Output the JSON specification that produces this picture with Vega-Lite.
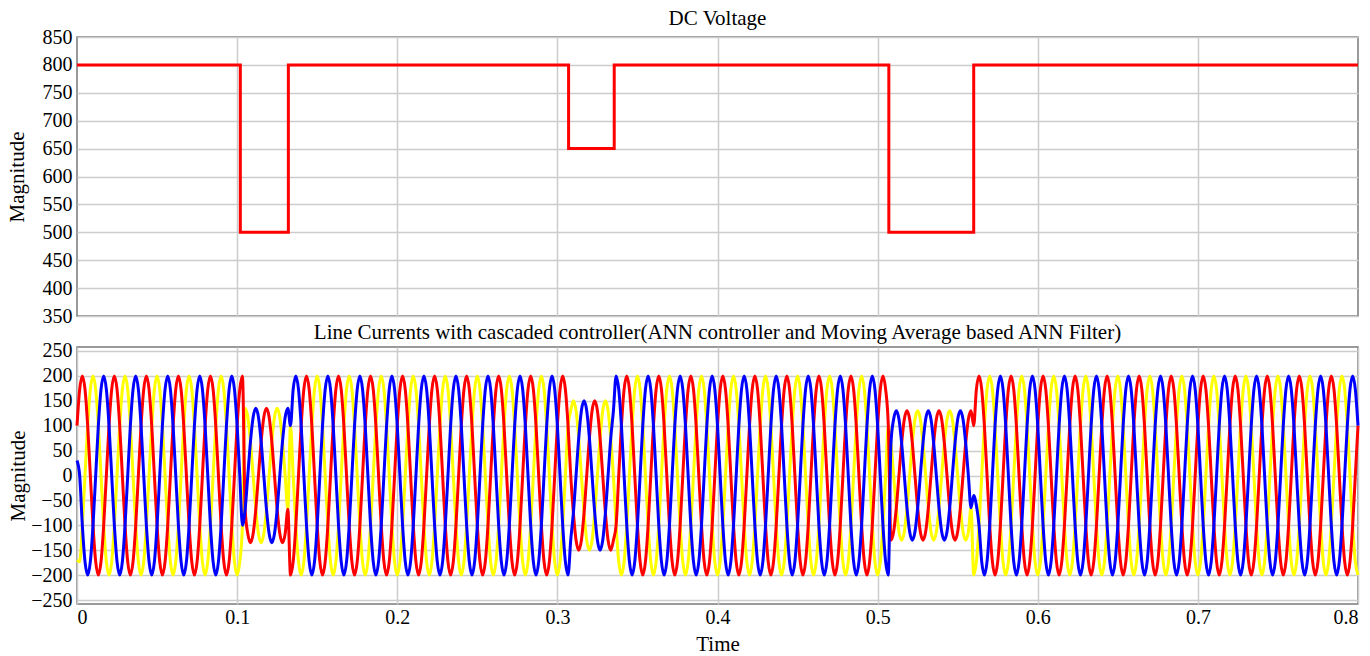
{
"$schema": "https://vega.github.io/schema/vega-lite/v6.json",
"background": "white",
"padding": {"left": 5, "top": 7, "right": 13, "bottom": 0},
"config": {
 "font": "Liberation Serif",
 "text": {"font": "Liberation Serif"},
 "view": {"stroke": "#7a7a7a", "strokeWidth": 1.5},
 "axis": {"labelFont": "Liberation Serif", "titleFont": "Liberation Serif", "labelFontSize": 20, "titleFontSize": 21, "titleFontWeight": "normal", "labelColor": "#000", "titleColor": "#000", "gridColor": "#cccccc", "gridWidth": 1.5, "domain": false, "ticks": false, "labelPadding": 5},
 "title": {"font": "Liberation Serif", "fontSize": 21, "fontWeight": "normal", "color": "#000", "offset": -2},
 "concat": {"spacing": -6}
},
"datasets": {
"dc": [
{"t":0,"v":800},{"t":0.102,"v":800},{"t":0.102,"v":500},{"t":0.132,"v":500},{"t":0.132,"v":800},
{"t":0.307,"v":800},{"t":0.307,"v":650},{"t":0.3355,"v":650},{"t":0.3355,"v":800},
{"t":0.507,"v":800},{"t":0.507,"v":500},{"t":0.56,"v":500},{"t":0.56,"v":800},{"t":0.8,"v":800}
],
"cur": [
{"t":0,"r":100,"y":-170,"b":30},{"t":0.00167,"r":173,"y":-173,"b":0},{"t":0.00333,"r":200,"y":-100,"b":-100},{"t":0.005,"r":173,"y":0,"b":-173},{"t":0.00667,"r":100,"y":100,"b":-200},{"t":0.00833,"r":0,"y":173,"b":-173},
{"t":0.01,"r":-100,"y":200,"b":-100},{"t":0.01167,"r":-173,"y":173,"b":0},{"t":0.01333,"r":-200,"y":100,"b":100},{"t":0.015,"r":-173,"y":0,"b":173},{"t":0.01667,"r":-100,"y":-100,"b":200},{"t":0.01833,"r":0,"y":-173,"b":173},
{"t":0.02,"r":100,"y":-200,"b":100},{"t":0.02167,"r":173,"y":-173,"b":0},{"t":0.02333,"r":200,"y":-100,"b":-100},{"t":0.025,"r":173,"y":0,"b":-173},{"t":0.02667,"r":100,"y":100,"b":-200},{"t":0.02833,"r":0,"y":173,"b":-173},
{"t":0.03,"r":-100,"y":200,"b":-100},{"t":0.03167,"r":-173,"y":173,"b":0},{"t":0.03333,"r":-200,"y":100,"b":100},{"t":0.035,"r":-173,"y":0,"b":173},{"t":0.03667,"r":-100,"y":-100,"b":200},{"t":0.03833,"r":0,"y":-173,"b":173},
{"t":0.04,"r":100,"y":-200,"b":100},{"t":0.04167,"r":173,"y":-173,"b":0},{"t":0.04333,"r":200,"y":-100,"b":-100},{"t":0.045,"r":173,"y":0,"b":-173},{"t":0.04667,"r":100,"y":100,"b":-200},{"t":0.04833,"r":0,"y":173,"b":-173},
{"t":0.05,"r":-100,"y":200,"b":-100},{"t":0.05167,"r":-173,"y":173,"b":0},{"t":0.05333,"r":-200,"y":100,"b":100},{"t":0.055,"r":-173,"y":0,"b":173},{"t":0.05667,"r":-100,"y":-100,"b":200},{"t":0.05833,"r":0,"y":-173,"b":173},
{"t":0.06,"r":100,"y":-200,"b":100},{"t":0.06167,"r":173,"y":-173,"b":0},{"t":0.06333,"r":200,"y":-100,"b":-100},{"t":0.065,"r":173,"y":0,"b":-173},{"t":0.06667,"r":100,"y":100,"b":-200},{"t":0.06833,"r":0,"y":173,"b":-173},
{"t":0.07,"r":-100,"y":200,"b":-100},{"t":0.07167,"r":-173,"y":173,"b":0},{"t":0.07333,"r":-200,"y":100,"b":100},{"t":0.075,"r":-173,"y":0,"b":173},{"t":0.07667,"r":-100,"y":-100,"b":200},{"t":0.07833,"r":0,"y":-173,"b":173},
{"t":0.08,"r":100,"y":-200,"b":100},{"t":0.08167,"r":173,"y":-173,"b":0},{"t":0.08333,"r":200,"y":-100,"b":-100},{"t":0.085,"r":173,"y":0,"b":-173},{"t":0.08667,"r":100,"y":100,"b":-200},{"t":0.08833,"r":0,"y":173,"b":-173},
{"t":0.09,"r":-100,"y":200,"b":-100},{"t":0.09167,"r":-173,"y":173,"b":0},{"t":0.09333,"r":-200,"y":100,"b":100},{"t":0.095,"r":-173,"y":0,"b":173},{"t":0.09667,"r":-100,"y":-100,"b":200},{"t":0.09833,"r":0,"y":-173,"b":173},
{"t":0.1,"r":100,"y":-200,"b":100},{"t":0.10167,"r":173,"y":-173,"b":0},{"t":0.10333,"r":200,"y":-100,"b":-100},{"t":0.105,"r":-68,"y":135,"b":-68},{"t":0.10667,"r":-117,"y":117,"b":0},{"t":0.10833,"r":-135,"y":68,"b":68},
{"t":0.11,"r":-117,"y":0,"b":117},{"t":0.11167,"r":-68,"y":-68,"b":135},{"t":0.11333,"r":0,"y":-117,"b":117},{"t":0.115,"r":68,"y":-135,"b":68},{"t":0.11667,"r":117,"y":-117,"b":0},{"t":0.11833,"r":135,"y":-68,"b":-68},
{"t":0.12,"r":117,"y":0,"b":-117},{"t":0.12167,"r":68,"y":68,"b":-135},{"t":0.12333,"r":0,"y":117,"b":-117},{"t":0.125,"r":-68,"y":135,"b":-68},{"t":0.12667,"r":-117,"y":117,"b":0},{"t":0.12833,"r":-135,"y":68,"b":68},
{"t":0.13,"r":-117,"y":0,"b":117},{"t":0.13167,"r":-68,"y":-68,"b":135},{"t":0.13333,"r":-200,"y":100,"b":100},{"t":0.135,"r":-173,"y":0,"b":173},{"t":0.13667,"r":-100,"y":-100,"b":200},{"t":0.13833,"r":0,"y":-173,"b":173},
{"t":0.14,"r":100,"y":-200,"b":100},{"t":0.14167,"r":173,"y":-173,"b":0},{"t":0.14333,"r":200,"y":-100,"b":-100},{"t":0.145,"r":173,"y":0,"b":-173},{"t":0.14667,"r":100,"y":100,"b":-200},{"t":0.14833,"r":0,"y":173,"b":-173},
{"t":0.15,"r":-100,"y":200,"b":-100},{"t":0.15167,"r":-173,"y":173,"b":0},{"t":0.15333,"r":-200,"y":100,"b":100},{"t":0.155,"r":-173,"y":0,"b":173},{"t":0.15667,"r":-100,"y":-100,"b":200},{"t":0.15833,"r":0,"y":-173,"b":173},
{"t":0.16,"r":100,"y":-200,"b":100},{"t":0.16167,"r":173,"y":-173,"b":0},{"t":0.16333,"r":200,"y":-100,"b":-100},{"t":0.165,"r":173,"y":0,"b":-173},{"t":0.16667,"r":100,"y":100,"b":-200},{"t":0.16833,"r":0,"y":173,"b":-173},
{"t":0.17,"r":-100,"y":200,"b":-100},{"t":0.17167,"r":-173,"y":173,"b":0},{"t":0.17333,"r":-200,"y":100,"b":100},{"t":0.175,"r":-173,"y":0,"b":173},{"t":0.17667,"r":-100,"y":-100,"b":200},{"t":0.17833,"r":0,"y":-173,"b":173},
{"t":0.18,"r":100,"y":-200,"b":100},{"t":0.18167,"r":173,"y":-173,"b":0},{"t":0.18333,"r":200,"y":-100,"b":-100},{"t":0.185,"r":173,"y":0,"b":-173},{"t":0.18667,"r":100,"y":100,"b":-200},{"t":0.18833,"r":0,"y":173,"b":-173},
{"t":0.19,"r":-100,"y":200,"b":-100},{"t":0.19167,"r":-173,"y":173,"b":0},{"t":0.19333,"r":-200,"y":100,"b":100},{"t":0.195,"r":-173,"y":0,"b":173},{"t":0.19667,"r":-100,"y":-100,"b":200},{"t":0.19833,"r":0,"y":-173,"b":173},
{"t":0.2,"r":100,"y":-200,"b":100},{"t":0.20167,"r":173,"y":-173,"b":0},{"t":0.20333,"r":200,"y":-100,"b":-100},{"t":0.205,"r":173,"y":0,"b":-173},{"t":0.20667,"r":100,"y":100,"b":-200},{"t":0.20833,"r":0,"y":173,"b":-173},
{"t":0.21,"r":-100,"y":200,"b":-100},{"t":0.21167,"r":-173,"y":173,"b":0},{"t":0.21333,"r":-200,"y":100,"b":100},{"t":0.215,"r":-173,"y":0,"b":173},{"t":0.21667,"r":-100,"y":-100,"b":200},{"t":0.21833,"r":0,"y":-173,"b":173},
{"t":0.22,"r":100,"y":-200,"b":100},{"t":0.22167,"r":173,"y":-173,"b":0},{"t":0.22333,"r":200,"y":-100,"b":-100},{"t":0.225,"r":173,"y":0,"b":-173},{"t":0.22667,"r":100,"y":100,"b":-200},{"t":0.22833,"r":0,"y":173,"b":-173},
{"t":0.23,"r":-100,"y":200,"b":-100},{"t":0.23167,"r":-173,"y":173,"b":0},{"t":0.23333,"r":-200,"y":100,"b":100},{"t":0.235,"r":-173,"y":0,"b":173},{"t":0.23667,"r":-100,"y":-100,"b":200},{"t":0.23833,"r":0,"y":-173,"b":173},
{"t":0.24,"r":100,"y":-200,"b":100},{"t":0.24167,"r":173,"y":-173,"b":0},{"t":0.24333,"r":200,"y":-100,"b":-100},{"t":0.245,"r":173,"y":0,"b":-173},{"t":0.24667,"r":100,"y":100,"b":-200},{"t":0.24833,"r":0,"y":173,"b":-173},
{"t":0.25,"r":-100,"y":200,"b":-100},{"t":0.25167,"r":-173,"y":173,"b":0},{"t":0.25333,"r":-200,"y":100,"b":100},{"t":0.255,"r":-173,"y":0,"b":173},{"t":0.25667,"r":-100,"y":-100,"b":200},{"t":0.25833,"r":0,"y":-173,"b":173},
{"t":0.26,"r":100,"y":-200,"b":100},{"t":0.26167,"r":173,"y":-173,"b":0},{"t":0.26333,"r":200,"y":-100,"b":-100},{"t":0.265,"r":173,"y":0,"b":-173},{"t":0.26667,"r":100,"y":100,"b":-200},{"t":0.26833,"r":0,"y":173,"b":-173},
{"t":0.27,"r":-100,"y":200,"b":-100},{"t":0.27167,"r":-173,"y":173,"b":0},{"t":0.27333,"r":-200,"y":100,"b":100},{"t":0.275,"r":-173,"y":0,"b":173},{"t":0.27667,"r":-100,"y":-100,"b":200},{"t":0.27833,"r":0,"y":-173,"b":173},
{"t":0.28,"r":100,"y":-200,"b":100},{"t":0.28167,"r":173,"y":-173,"b":0},{"t":0.28333,"r":200,"y":-100,"b":-100},{"t":0.285,"r":173,"y":0,"b":-173},{"t":0.28667,"r":100,"y":100,"b":-200},{"t":0.28833,"r":0,"y":173,"b":-173},
{"t":0.29,"r":-100,"y":200,"b":-100},{"t":0.29167,"r":-173,"y":173,"b":0},{"t":0.29333,"r":-200,"y":100,"b":100},{"t":0.295,"r":-173,"y":0,"b":173},{"t":0.29667,"r":-100,"y":-100,"b":200},{"t":0.29833,"r":0,"y":-173,"b":173},
{"t":0.3,"r":100,"y":-200,"b":100},{"t":0.30167,"r":173,"y":-173,"b":0},{"t":0.30333,"r":200,"y":-100,"b":-100},{"t":0.305,"r":173,"y":0,"b":-173},{"t":0.30667,"r":100,"y":100,"b":-200},{"t":0.30833,"r":0,"y":130,"b":-130},
{"t":0.31,"r":-75,"y":150,"b":-75},{"t":0.31167,"r":-130,"y":130,"b":0},{"t":0.31333,"r":-150,"y":75,"b":75},{"t":0.315,"r":-130,"y":0,"b":130},{"t":0.31667,"r":-75,"y":-75,"b":150},{"t":0.31833,"r":0,"y":-130,"b":130},
{"t":0.32,"r":75,"y":-150,"b":75},{"t":0.32167,"r":130,"y":-130,"b":0},{"t":0.32333,"r":150,"y":-75,"b":-75},{"t":0.325,"r":130,"y":0,"b":-130},{"t":0.32667,"r":75,"y":75,"b":-150},{"t":0.32833,"r":0,"y":130,"b":-130},
{"t":0.33,"r":-75,"y":150,"b":-75},{"t":0.33167,"r":-130,"y":130,"b":0},{"t":0.33333,"r":-150,"y":75,"b":75},{"t":0.335,"r":-130,"y":0,"b":130},{"t":0.33667,"r":-100,"y":-100,"b":200},{"t":0.33833,"r":0,"y":-173,"b":173},
{"t":0.34,"r":100,"y":-200,"b":100},{"t":0.34167,"r":173,"y":-173,"b":0},{"t":0.34333,"r":200,"y":-100,"b":-100},{"t":0.345,"r":173,"y":0,"b":-173},{"t":0.34667,"r":100,"y":100,"b":-200},{"t":0.34833,"r":0,"y":173,"b":-173},
{"t":0.35,"r":-100,"y":200,"b":-100},{"t":0.35167,"r":-173,"y":173,"b":0},{"t":0.35333,"r":-200,"y":100,"b":100},{"t":0.355,"r":-173,"y":0,"b":173},{"t":0.35667,"r":-100,"y":-100,"b":200},{"t":0.35833,"r":0,"y":-173,"b":173},
{"t":0.36,"r":100,"y":-200,"b":100},{"t":0.36167,"r":173,"y":-173,"b":0},{"t":0.36333,"r":200,"y":-100,"b":-100},{"t":0.365,"r":173,"y":0,"b":-173},{"t":0.36667,"r":100,"y":100,"b":-200},{"t":0.36833,"r":0,"y":173,"b":-173},
{"t":0.37,"r":-100,"y":200,"b":-100},{"t":0.37167,"r":-173,"y":173,"b":0},{"t":0.37333,"r":-200,"y":100,"b":100},{"t":0.375,"r":-173,"y":0,"b":173},{"t":0.37667,"r":-100,"y":-100,"b":200},{"t":0.37833,"r":0,"y":-173,"b":173},
{"t":0.38,"r":100,"y":-200,"b":100},{"t":0.38167,"r":173,"y":-173,"b":0},{"t":0.38333,"r":200,"y":-100,"b":-100},{"t":0.385,"r":173,"y":0,"b":-173},{"t":0.38667,"r":100,"y":100,"b":-200},{"t":0.38833,"r":0,"y":173,"b":-173},
{"t":0.39,"r":-100,"y":200,"b":-100},{"t":0.39167,"r":-173,"y":173,"b":0},{"t":0.39333,"r":-200,"y":100,"b":100},{"t":0.395,"r":-173,"y":0,"b":173},{"t":0.39667,"r":-100,"y":-100,"b":200},{"t":0.39833,"r":0,"y":-173,"b":173},
{"t":0.4,"r":100,"y":-200,"b":100},{"t":0.40167,"r":173,"y":-173,"b":0},{"t":0.40333,"r":200,"y":-100,"b":-100},{"t":0.405,"r":173,"y":0,"b":-173},{"t":0.40667,"r":100,"y":100,"b":-200},{"t":0.40833,"r":0,"y":173,"b":-173},
{"t":0.41,"r":-100,"y":200,"b":-100},{"t":0.41167,"r":-173,"y":173,"b":0},{"t":0.41333,"r":-200,"y":100,"b":100},{"t":0.415,"r":-173,"y":0,"b":173},{"t":0.41667,"r":-100,"y":-100,"b":200},{"t":0.41833,"r":0,"y":-173,"b":173},
{"t":0.42,"r":100,"y":-200,"b":100},{"t":0.42167,"r":173,"y":-173,"b":0},{"t":0.42333,"r":200,"y":-100,"b":-100},{"t":0.425,"r":173,"y":0,"b":-173},{"t":0.42667,"r":100,"y":100,"b":-200},{"t":0.42833,"r":0,"y":173,"b":-173},
{"t":0.43,"r":-100,"y":200,"b":-100},{"t":0.43167,"r":-173,"y":173,"b":0},{"t":0.43333,"r":-200,"y":100,"b":100},{"t":0.435,"r":-173,"y":0,"b":173},{"t":0.43667,"r":-100,"y":-100,"b":200},{"t":0.43833,"r":0,"y":-173,"b":173},
{"t":0.44,"r":100,"y":-200,"b":100},{"t":0.44167,"r":173,"y":-173,"b":0},{"t":0.44333,"r":200,"y":-100,"b":-100},{"t":0.445,"r":173,"y":0,"b":-173},{"t":0.44667,"r":100,"y":100,"b":-200},{"t":0.44833,"r":0,"y":173,"b":-173},
{"t":0.45,"r":-100,"y":200,"b":-100},{"t":0.45167,"r":-173,"y":173,"b":0},{"t":0.45333,"r":-200,"y":100,"b":100},{"t":0.455,"r":-173,"y":0,"b":173},{"t":0.45667,"r":-100,"y":-100,"b":200},{"t":0.45833,"r":0,"y":-173,"b":173},
{"t":0.46,"r":100,"y":-200,"b":100},{"t":0.46167,"r":173,"y":-173,"b":0},{"t":0.46333,"r":200,"y":-100,"b":-100},{"t":0.465,"r":173,"y":0,"b":-173},{"t":0.46667,"r":100,"y":100,"b":-200},{"t":0.46833,"r":0,"y":173,"b":-173},
{"t":0.47,"r":-100,"y":200,"b":-100},{"t":0.47167,"r":-173,"y":173,"b":0},{"t":0.47333,"r":-200,"y":100,"b":100},{"t":0.475,"r":-173,"y":0,"b":173},{"t":0.47667,"r":-100,"y":-100,"b":200},{"t":0.47833,"r":0,"y":-173,"b":173},
{"t":0.48,"r":100,"y":-200,"b":100},{"t":0.48167,"r":173,"y":-173,"b":0},{"t":0.48333,"r":200,"y":-100,"b":-100},{"t":0.485,"r":173,"y":0,"b":-173},{"t":0.48667,"r":100,"y":100,"b":-200},{"t":0.48833,"r":0,"y":173,"b":-173},
{"t":0.49,"r":-100,"y":200,"b":-100},{"t":0.49167,"r":-173,"y":173,"b":0},{"t":0.49333,"r":-200,"y":100,"b":100},{"t":0.495,"r":-173,"y":0,"b":173},{"t":0.49667,"r":-100,"y":-100,"b":200},{"t":0.49833,"r":0,"y":-173,"b":173},
{"t":0.5,"r":100,"y":-200,"b":100},{"t":0.50167,"r":173,"y":-173,"b":0},{"t":0.50333,"r":200,"y":-100,"b":-100},{"t":0.505,"r":173,"y":0,"b":-173},{"t":0.50667,"r":100,"y":100,"b":-200},{"t":0.50833,"r":-130,"y":65,"b":65},
{"t":0.51,"r":-113,"y":0,"b":113},{"t":0.51167,"r":-65,"y":-65,"b":130},{"t":0.51333,"r":0,"y":-113,"b":113},{"t":0.515,"r":65,"y":-130,"b":65},{"t":0.51667,"r":113,"y":-113,"b":0},{"t":0.51833,"r":130,"y":-65,"b":-65},
{"t":0.52,"r":113,"y":0,"b":-113},{"t":0.52167,"r":65,"y":65,"b":-130},{"t":0.52333,"r":0,"y":113,"b":-113},{"t":0.525,"r":-65,"y":130,"b":-65},{"t":0.52667,"r":-113,"y":113,"b":0},{"t":0.52833,"r":-130,"y":65,"b":65},
{"t":0.53,"r":-113,"y":0,"b":113},{"t":0.53167,"r":-65,"y":-65,"b":130},{"t":0.53333,"r":0,"y":-113,"b":113},{"t":0.535,"r":65,"y":-130,"b":65},{"t":0.53667,"r":113,"y":-113,"b":0},{"t":0.53833,"r":130,"y":-65,"b":-65},
{"t":0.54,"r":113,"y":0,"b":-113},{"t":0.54167,"r":65,"y":65,"b":-130},{"t":0.54333,"r":0,"y":113,"b":-113},{"t":0.545,"r":-65,"y":130,"b":-65},{"t":0.54667,"r":-113,"y":113,"b":0},{"t":0.54833,"r":-130,"y":65,"b":65},
{"t":0.55,"r":-113,"y":0,"b":113},{"t":0.55167,"r":-65,"y":-65,"b":130},{"t":0.55333,"r":0,"y":-113,"b":113},{"t":0.555,"r":65,"y":-130,"b":65},{"t":0.55667,"r":113,"y":-113,"b":0},{"t":0.55833,"r":130,"y":-65,"b":-65},
{"t":0.56,"r":100,"y":-200,"b":-40},{"t":0.56167,"r":173,"y":-173,"b":-60},{"t":0.56333,"r":200,"y":-100,"b":-100},{"t":0.565,"r":173,"y":0,"b":-173},{"t":0.56667,"r":100,"y":100,"b":-200},{"t":0.56833,"r":0,"y":173,"b":-173},
{"t":0.57,"r":-100,"y":200,"b":-100},{"t":0.57167,"r":-173,"y":173,"b":0},{"t":0.57333,"r":-200,"y":100,"b":100},{"t":0.575,"r":-173,"y":0,"b":173},{"t":0.57667,"r":-100,"y":-100,"b":200},{"t":0.57833,"r":0,"y":-173,"b":173},
{"t":0.58,"r":100,"y":-200,"b":100},{"t":0.58167,"r":173,"y":-173,"b":0},{"t":0.58333,"r":200,"y":-100,"b":-100},{"t":0.585,"r":173,"y":0,"b":-173},{"t":0.58667,"r":100,"y":100,"b":-200},{"t":0.58833,"r":0,"y":173,"b":-173},
{"t":0.59,"r":-100,"y":200,"b":-100},{"t":0.59167,"r":-173,"y":173,"b":0},{"t":0.59333,"r":-200,"y":100,"b":100},{"t":0.595,"r":-173,"y":0,"b":173},{"t":0.59667,"r":-100,"y":-100,"b":200},{"t":0.59833,"r":0,"y":-173,"b":173},
{"t":0.6,"r":100,"y":-200,"b":100},{"t":0.60167,"r":173,"y":-173,"b":0},{"t":0.60333,"r":200,"y":-100,"b":-100},{"t":0.605,"r":173,"y":0,"b":-173},{"t":0.60667,"r":100,"y":100,"b":-200},{"t":0.60833,"r":0,"y":173,"b":-173},
{"t":0.61,"r":-100,"y":200,"b":-100},{"t":0.61167,"r":-173,"y":173,"b":0},{"t":0.61333,"r":-200,"y":100,"b":100},{"t":0.615,"r":-173,"y":0,"b":173},{"t":0.61667,"r":-100,"y":-100,"b":200},{"t":0.61833,"r":0,"y":-173,"b":173},
{"t":0.62,"r":100,"y":-200,"b":100},{"t":0.62167,"r":173,"y":-173,"b":0},{"t":0.62333,"r":200,"y":-100,"b":-100},{"t":0.625,"r":173,"y":0,"b":-173},{"t":0.62667,"r":100,"y":100,"b":-200},{"t":0.62833,"r":0,"y":173,"b":-173},
{"t":0.63,"r":-100,"y":200,"b":-100},{"t":0.63167,"r":-173,"y":173,"b":0},{"t":0.63333,"r":-200,"y":100,"b":100},{"t":0.635,"r":-173,"y":0,"b":173},{"t":0.63667,"r":-100,"y":-100,"b":200},{"t":0.63833,"r":0,"y":-173,"b":173},
{"t":0.64,"r":100,"y":-200,"b":100},{"t":0.64167,"r":173,"y":-173,"b":0},{"t":0.64333,"r":200,"y":-100,"b":-100},{"t":0.645,"r":173,"y":0,"b":-173},{"t":0.64667,"r":100,"y":100,"b":-200},{"t":0.64833,"r":0,"y":173,"b":-173},
{"t":0.65,"r":-100,"y":200,"b":-100},{"t":0.65167,"r":-173,"y":173,"b":0},{"t":0.65333,"r":-200,"y":100,"b":100},{"t":0.655,"r":-173,"y":0,"b":173},{"t":0.65667,"r":-100,"y":-100,"b":200},{"t":0.65833,"r":0,"y":-173,"b":173},
{"t":0.66,"r":100,"y":-200,"b":100},{"t":0.66167,"r":173,"y":-173,"b":0},{"t":0.66333,"r":200,"y":-100,"b":-100},{"t":0.665,"r":173,"y":0,"b":-173},{"t":0.66667,"r":100,"y":100,"b":-200},{"t":0.66833,"r":0,"y":173,"b":-173},
{"t":0.67,"r":-100,"y":200,"b":-100},{"t":0.67167,"r":-173,"y":173,"b":0},{"t":0.67333,"r":-200,"y":100,"b":100},{"t":0.675,"r":-173,"y":0,"b":173},{"t":0.67667,"r":-100,"y":-100,"b":200},{"t":0.67833,"r":0,"y":-173,"b":173},
{"t":0.68,"r":100,"y":-200,"b":100},{"t":0.68167,"r":173,"y":-173,"b":0},{"t":0.68333,"r":200,"y":-100,"b":-100},{"t":0.685,"r":173,"y":0,"b":-173},{"t":0.68667,"r":100,"y":100,"b":-200},{"t":0.68833,"r":0,"y":173,"b":-173},
{"t":0.69,"r":-100,"y":200,"b":-100},{"t":0.69167,"r":-173,"y":173,"b":0},{"t":0.69333,"r":-200,"y":100,"b":100},{"t":0.695,"r":-173,"y":0,"b":173},{"t":0.69667,"r":-100,"y":-100,"b":200},{"t":0.69833,"r":0,"y":-173,"b":173},
{"t":0.7,"r":100,"y":-200,"b":100},{"t":0.70167,"r":173,"y":-173,"b":0},{"t":0.70333,"r":200,"y":-100,"b":-100},{"t":0.705,"r":173,"y":0,"b":-173},{"t":0.70667,"r":100,"y":100,"b":-200},{"t":0.70833,"r":0,"y":173,"b":-173},
{"t":0.71,"r":-100,"y":200,"b":-100},{"t":0.71167,"r":-173,"y":173,"b":0},{"t":0.71333,"r":-200,"y":100,"b":100},{"t":0.715,"r":-173,"y":0,"b":173},{"t":0.71667,"r":-100,"y":-100,"b":200},{"t":0.71833,"r":0,"y":-173,"b":173},
{"t":0.72,"r":100,"y":-200,"b":100},{"t":0.72167,"r":173,"y":-173,"b":0},{"t":0.72333,"r":200,"y":-100,"b":-100},{"t":0.725,"r":173,"y":0,"b":-173},{"t":0.72667,"r":100,"y":100,"b":-200},{"t":0.72833,"r":0,"y":173,"b":-173},
{"t":0.73,"r":-100,"y":200,"b":-100},{"t":0.73167,"r":-173,"y":173,"b":0},{"t":0.73333,"r":-200,"y":100,"b":100},{"t":0.735,"r":-173,"y":0,"b":173},{"t":0.73667,"r":-100,"y":-100,"b":200},{"t":0.73833,"r":0,"y":-173,"b":173},
{"t":0.74,"r":100,"y":-200,"b":100},{"t":0.74167,"r":173,"y":-173,"b":0},{"t":0.74333,"r":200,"y":-100,"b":-100},{"t":0.745,"r":173,"y":0,"b":-173},{"t":0.74667,"r":100,"y":100,"b":-200},{"t":0.74833,"r":0,"y":173,"b":-173},
{"t":0.75,"r":-100,"y":200,"b":-100},{"t":0.75167,"r":-173,"y":173,"b":0},{"t":0.75333,"r":-200,"y":100,"b":100},{"t":0.755,"r":-173,"y":0,"b":173},{"t":0.75667,"r":-100,"y":-100,"b":200},{"t":0.75833,"r":0,"y":-173,"b":173},
{"t":0.76,"r":100,"y":-200,"b":100},{"t":0.76167,"r":173,"y":-173,"b":0},{"t":0.76333,"r":200,"y":-100,"b":-100},{"t":0.765,"r":173,"y":0,"b":-173},{"t":0.76667,"r":100,"y":100,"b":-200},{"t":0.76833,"r":0,"y":173,"b":-173},
{"t":0.77,"r":-100,"y":200,"b":-100},{"t":0.77167,"r":-173,"y":173,"b":0},{"t":0.77333,"r":-200,"y":100,"b":100},{"t":0.775,"r":-173,"y":0,"b":173},{"t":0.77667,"r":-100,"y":-100,"b":200},{"t":0.77833,"r":0,"y":-173,"b":173},
{"t":0.78,"r":100,"y":-200,"b":100},{"t":0.78167,"r":173,"y":-173,"b":0},{"t":0.78333,"r":200,"y":-100,"b":-100},{"t":0.785,"r":173,"y":0,"b":-173},{"t":0.78667,"r":100,"y":100,"b":-200},{"t":0.78833,"r":0,"y":173,"b":-173},
{"t":0.79,"r":-100,"y":200,"b":-100},{"t":0.79167,"r":-173,"y":173,"b":0},{"t":0.79333,"r":-200,"y":100,"b":100},{"t":0.795,"r":-173,"y":0,"b":173},{"t":0.79667,"r":-100,"y":-100,"b":200},{"t":0.79833,"r":0,"y":-173,"b":173},
{"t":0.8,"r":100,"y":-200,"b":100}
]
},
"vconcat": [
{
 "title": "DC Voltage",
 "width": 1281, "height": 279,
 "data": {"name": "dc"},
 "mark": {"type": "line", "color": "#ff0000", "strokeWidth": 3},
 "encoding": {
  "x": {"field": "t", "type": "quantitative", "scale": {"domain": [0, 0.8], "nice": false},
        "axis": {"values": [0.1,0.2,0.3,0.4,0.5,0.6,0.7], "labels": false, "labelPadding": 0, "title": null, "grid": true}},
  "y": {"field": "v", "type": "quantitative", "scale": {"domain": [350, 850], "nice": false, "zero": false},
        "axis": {"values": [350,400,450,500,550,600,650,700,750,800,850], "labelFont": "Liberation Serif", "title": "Magnitude", "titlePadding": 15}}
 }
},
{
 "title": "Line Currents with cascaded controller(ANN controller and Moving Average based ANN Filter)",
 "width": 1281, "height": 257,
 "data": {"name": "cur"},
 "encoding": {
  "x": {"field": "t", "type": "quantitative", "scale": {"domain": [0, 0.8], "nice": false},
        "axis": {"values": [0,0.1,0.2,0.3,0.4,0.5,0.6,0.7,0.8], "format": ".1~f", "labelFont": "Liberation Serif", "title": "Time", "labelPadding": 3, "titlePadding": 6}}
 },
 "layer": [
  {"mark": {"type": "line", "color": "#ffff00", "strokeWidth": 3, "interpolate": "monotone"},
   "encoding": {"y": {"field": "y", "type": "quantitative", "scale": {"domain": [-258, 258], "nice": false},
     "axis": {"values": [-250,-200,-150,-100,-50,0,50,100,150,200,250], "labelFont": "Liberation Serif", "title": "Magnitude", "titlePadding": 2}}}},
  {"mark": {"type": "line", "color": "#ff0000", "strokeWidth": 3, "interpolate": "monotone"},
   "encoding": {"y": {"field": "r", "type": "quantitative", "scale": {"domain": [-258, 258], "nice": false},
     "axis": {"values": [-250,-200,-150,-100,-50,0,50,100,150,200,250], "labelFont": "Liberation Serif", "title": "Magnitude", "titlePadding": 2}}}},
  {"mark": {"type": "line", "color": "#0000ff", "strokeWidth": 3, "interpolate": "monotone"},
   "encoding": {"y": {"field": "b", "type": "quantitative", "scale": {"domain": [-258, 258], "nice": false},
     "axis": {"values": [-250,-200,-150,-100,-50,0,50,100,150,200,250], "labelFont": "Liberation Serif", "title": "Magnitude", "titlePadding": 2}}}}
 ]
}
]
}
